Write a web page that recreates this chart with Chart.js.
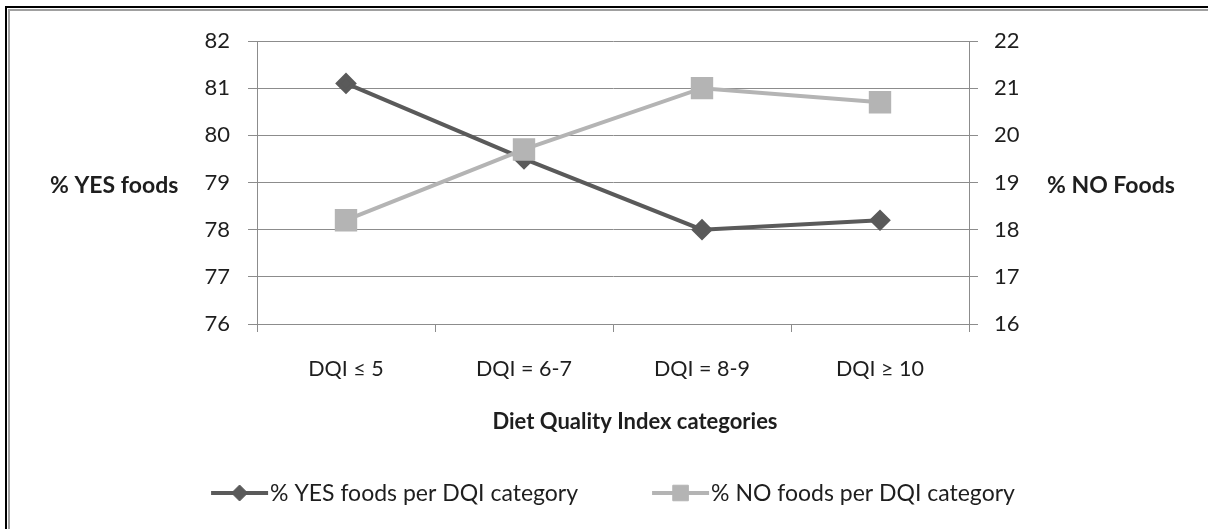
<!DOCTYPE html>
<html>
<head>
<meta charset="utf-8">
<script src="https://cdn.jsdelivr.net/npm/chart.js@4.4.1/dist/chart.umd.min.js"></script>
<style>
  html, body { margin: 0; padding: 0; background: #fff; }
  #wrap { position: relative; width: 1208px; height: 529px; overflow: hidden; background: #fff; }
  #frameOuter { position: absolute; left: 5px; top: 6px; width: 1400px; height: 700px;
                border-left: 2px solid #000; border-top: 2px solid #000; }
  #frameInner { position: absolute; left: 8px; top: 9px; width: 1400px; height: 700px;
                border-left: 2px solid #a0a0a0; border-top: 2px solid #a0a0a0; }
  canvas { position: absolute; left: 0; top: 0; }
</style>
</head>
<body>
<div id="wrap">
  <div id="frameOuter"></div>
  <div id="frameInner"></div>
  <canvas id="c" width="1208" height="529"></canvas>
</div>
<script>
// Diet Quality Index categories and the share of foods in each
const categories = ['DQI \u2264 5', 'DQI = 6-7', 'DQI = 8-9', 'DQI \u2265 10'];
const yesFoods = [81.1, 79.5, 78.0, 78.2];   // % YES foods (left axis)
const noFoods  = [18.2, 19.7, 21.0, 20.7];   // % NO foods (right axis)
const leftRange  = [76, 82];
const rightRange = [16, 22];

const seriesNames = ['% YES foods per DQI category', '% NO foods per DQI category'];
const leftTitle  = '% YES foods';
const rightTitle = '% NO Foods';
const xTitle     = 'Diet Quality Index categories';

const FONT = 'Lato';
const TEXT = '#1e1e1e';
const GRID = '#8c8c8c';
const DARK = '#5a5a5a';
const LIGHT = '#b4b4b4';

// Horizontal axis titles and a line+marker legend
const decorations = {
  id: 'decorations',
  afterDraw(chart) {
    const { ctx, chartArea } = chart;
    ctx.save();
    ctx.fillStyle = TEXT;
    ctx.textBaseline = 'alphabetic';
    ctx.font = `bold 23px ${FONT}`;
    const yMid = chart.scales.y.getPixelForValue(79);
    ctx.textAlign = 'left';
    ctx.fillText(leftTitle, 50, yMid + 10);
    ctx.fillText(rightTitle, 1047, yMid + 10);
    ctx.font = `bold 22px ${FONT}`;
    ctx.textAlign = 'center';
    ctx.fillText(xTitle, 635, 429);

    // legend
    ctx.font = `23px ${FONT}`;
    const lineLen = 57, gapText = 2, gapItems = 74;
    const sets = chart.data.datasets;
    const widths = sets.map(d => lineLen + gapText + ctx.measureText(d.label).width);
    const total = widths.reduce((a, b) => a + b, 0) + gapItems * (widths.length - 1);
    let x = (chartArea.left + chartArea.right) / 2 - total / 2;
    const y = 493;
    sets.forEach((d, i) => {
      ctx.strokeStyle = d.borderColor;
      ctx.lineWidth = 4;
      ctx.beginPath();
      ctx.moveTo(x, y);
      ctx.lineTo(x + lineLen, y);
      ctx.stroke();
      ctx.fillStyle = d.pointBackgroundColor;
      ctx.strokeStyle = d.pointBorderColor;
      ctx.lineWidth = 1;
      Chart.helpers.drawPoint(ctx, {
        pointStyle: d.pointStyle, rotation: 0, borderWidth: 1,
        radius: d.pointStyle === 'rect' ? 11 : 8
      }, x + lineLen / 2, y);
      ctx.fillStyle = TEXT;
      ctx.textAlign = 'left';
      ctx.textBaseline = 'middle';
      ctx.fillText(d.label, x + lineLen + gapText, y + 1);
      x += widths[i] + gapItems;
    });
    ctx.restore();
  }
};

new Chart(document.getElementById('c'), {
  type: 'line',
  data: {
    labels: categories,
    datasets: [
      {
        label: seriesNames[0],
        data: yesFoods,
        yAxisID: 'y',
        borderColor: DARK,
        borderWidth: 4,
        pointStyle: 'rectRot',
        pointRadius: 8,
        pointBackgroundColor: DARK,
        pointBorderColor: DARK,
        tension: 0,
        order: 1
      },
      {
        label: seriesNames[1],
        data: noFoods,
        yAxisID: 'y1',
        borderColor: LIGHT,
        borderWidth: 4,
        pointStyle: 'rect',
        pointRadius: 13,
        pointBackgroundColor: LIGHT,
        pointBorderColor: LIGHT,
        tension: 0,
        order: 0
      }
    ]
  },
  options: {
    responsive: false,
    animation: false,
    events: [],
    layout: { padding: { top: 41, left: 0, right: 0, bottom: 0 } },
    plugins: { legend: { display: false }, tooltip: { enabled: false } },
    scales: {
      x: {
        type: 'category',
        offset: true,
        grid: { offset: true, drawOnChartArea: false, drawTicks: true, tickLength: 8, color: GRID, lineWidth: 1 },
        border: { display: true, color: GRID, width: 1 },
        ticks: { color: TEXT, font: { family: FONT, size: 21.5 }, padding: 24, maxRotation: 0, autoSkip: false },
        afterFit(s) { s.height = 205; }
      },
      y: {
        position: 'left',
        min: leftRange[0],
        max: leftRange[1],
        ticks: { stepSize: 1, color: TEXT, font: { family: FONT, size: 22 }, padding: 18 },
        grid: { color: GRID, lineWidth: 1, tickLength: 9 },
        border: { display: true, color: GRID, width: 1 },
        afterFit(s) { s.width = 257; }
      },
      y1: {
        position: 'right',
        min: rightRange[0],
        max: rightRange[1],
        ticks: { stepSize: 1, color: TEXT, font: { family: FONT, size: 22 }, padding: 16 },
        grid: { drawOnChartArea: false, color: GRID, lineWidth: 1, tickLength: 9 },
        border: { display: true, color: GRID, width: 1 },
        afterFit(s) { s.width = 239; }
      }
    }
  },
  plugins: [decorations]
});
</script>
</body>
</html>
